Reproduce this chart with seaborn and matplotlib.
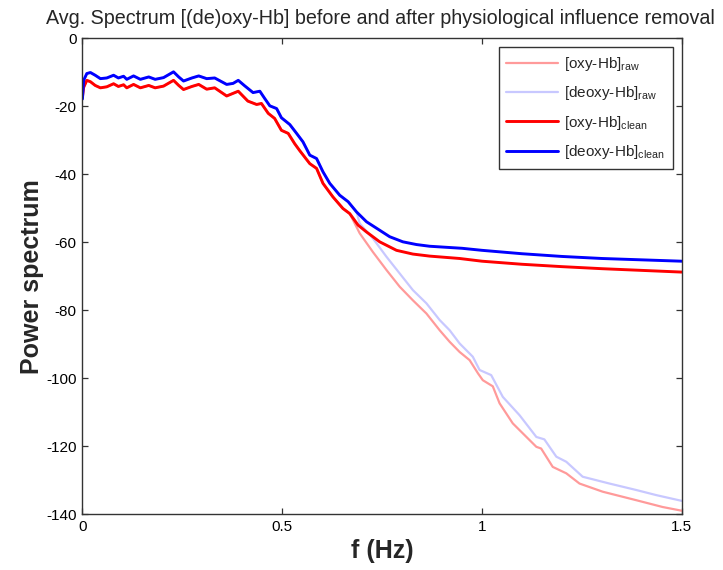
import matplotlib
matplotlib.use("Agg")
import matplotlib.pyplot as plt
import seaborn as sns
import pandas as pd
import numpy as np

# clean spectra
freq_oxy_clean = [0.000, 0.003, 0.011, 0.020, 0.032, 0.045, 0.061, 0.078, 0.090, 0.103,
                  0.111, 0.128, 0.145, 0.166, 0.182, 0.203, 0.228, 0.241, 0.253, 0.274,
                  0.291, 0.311, 0.331, 0.361, 0.390, 0.414, 0.436, 0.448, 0.465, 0.481,
                  0.498, 0.515, 0.531, 0.544, 0.569, 0.586, 0.602, 0.627, 0.652, 0.669,
                  0.690, 0.711, 0.744, 0.786, 0.827, 0.869, 0.944, 1.0, 1.1, 1.2,
                  1.3, 1.4, 1.5]
oxy_clean = [-17.3, -14.5, -12.4, -12.8, -13.9, -14.6, -14.3, -13.4, -14.2, -13.7,
             -14.6, -13.6, -14.6, -13.9, -14.6, -14.1, -12.4, -13.9, -15.1, -14.2,
             -13.6, -15.0, -14.6, -17.0, -15.6, -18.5, -19.5, -19.2, -22.1, -23.6,
             -27.1, -28.0, -31.0, -33.1, -36.9, -38.3, -42.7, -46.7, -50.1, -51.6,
             -55.0, -57.0, -59.9, -62.4, -63.5, -64.1, -64.8, -65.6, -66.5, -67.2,
             -67.8, -68.3, -68.8]

freq_deoxy_clean = [0.000, 0.003, 0.011, 0.020, 0.032, 0.045, 0.061, 0.078, 0.090, 0.103,
                    0.111, 0.128, 0.145, 0.166, 0.182, 0.203, 0.228, 0.241, 0.253, 0.274,
                    0.291, 0.311, 0.331, 0.361, 0.377, 0.390, 0.406, 0.427, 0.444, 0.456,
                    0.469, 0.486, 0.498, 0.519, 0.536, 0.552, 0.569, 0.586, 0.602, 0.619,
                    0.644, 0.665, 0.686, 0.711, 0.744, 0.769, 0.802, 0.836, 0.869, 0.95,
                    1.0, 1.1, 1.2, 1.3, 1.4, 1.5]
deoxy_clean = [-17.9, -12.4, -10.4, -10.1, -10.9, -11.9, -11.7, -10.9, -11.7, -11.2,
               -12.1, -11.1, -12.1, -11.4, -12.1, -11.6, -9.9, -11.4, -12.6, -11.7,
               -11.1, -11.9, -11.7, -13.6, -13.3, -12.4, -14.0, -16.0, -15.6, -17.7,
               -19.9, -20.7, -23.4, -25.4, -28.0, -30.5, -34.4, -35.4, -39.3, -42.7,
               -46.2, -48.1, -51.1, -54.0, -56.5, -58.4, -59.9, -60.7, -61.2, -61.8,
               -62.4, -63.4, -64.2, -64.8, -65.2, -65.6]

# raw spectra follow the clean ones at low f, then drop off
freq_oxy_raw_tail = [0.694, 0.727, 0.761, 0.794, 0.827, 0.861, 0.894, 0.919, 0.944, 0.969,
                     0.990, 1.002, 1.027, 1.044, 1.077, 1.136, 1.148, 1.177, 1.211, 1.244,
                     1.302, 1.386, 1.452, 1.5]
oxy_raw_tail = [-57.4, -62.9, -68.2, -73.1, -77.1, -81.0, -85.9, -89.3, -92.3, -94.7,
                -98.6, -100.6, -102.4, -107.4, -113.3, -120.2, -120.7, -126.1, -128.0, -131.0,
                -133.4, -135.9, -137.9, -139.0]
freq_deoxy_raw_tail = [0.694, 0.727, 0.761, 0.794, 0.827, 0.861, 0.894, 0.919, 0.944, 0.977,
                       0.994, 1.023, 1.052, 1.094, 1.136, 1.156, 1.186, 1.211, 1.252, 1.319,
                       1.386, 1.436, 1.5]
deoxy_raw_tail = [-54.5, -58.9, -64.3, -69.2, -74.1, -78.0, -82.9, -85.9, -89.8, -93.7,
                  -97.6, -99.1, -105.5, -110.9, -117.3, -118.0, -123.1, -124.6, -129.0, -131.0,
                  -132.9, -134.4, -136.1]

labels = [r'[oxy-Hb]$_{\mathrm{raw}}$', r'[deoxy-Hb]$_{\mathrm{raw}}$',
          r'[oxy-Hb]$_{\mathrm{clean}}$', r'[deoxy-Hb]$_{\mathrm{clean}}$']
colors = ['#ff9a9a', '#c8c8ff', '#ff0000', '#0000ff']
widths = [1.6, 1.6, 2.1, 2.1]


def shared_then_tail(f_clean, v_clean, f_tail, v_tail, cut):
    f_clean = np.array(f_clean)
    v_clean = np.array(v_clean)
    keep = f_clean <= cut
    return pd.DataFrame({'f': np.concatenate([f_clean[keep], f_tail]),
                         'P': np.concatenate([v_clean[keep], v_tail])})


df_oxy_raw = shared_then_tail(freq_oxy_clean, oxy_clean, freq_oxy_raw_tail, oxy_raw_tail, 0.67)
df_deoxy_raw = shared_then_tail(freq_deoxy_clean, deoxy_clean, freq_deoxy_raw_tail, deoxy_raw_tail, 0.687)
df_oxy_clean = pd.DataFrame({'f': freq_oxy_clean, 'P': oxy_clean})
df_deoxy_clean = pd.DataFrame({'f': freq_deoxy_clean, 'P': deoxy_clean})

sns.set_style("ticks")
plt.rcParams['font.family'] = ['Liberation Sans', 'DejaVu Sans']
plt.rcParams['mathtext.fontset'] = 'custom'
plt.rcParams['mathtext.rm'] = 'Liberation Sans'
plt.rcParams['mathtext.it'] = 'Liberation Sans:italic'
plt.rcParams['axes.unicode_minus'] = False

fig = plt.figure(figsize=(7.23, 5.70), dpi=100)
ax = fig.add_axes([0.114, 0.098, 0.829, 0.835])

for d, lab, c, w in zip([df_oxy_raw, df_deoxy_raw, df_oxy_clean, df_deoxy_clean], labels, colors, widths):
    sns.lineplot(data=d, x='f', y='P', ax=ax, color=c, linewidth=w, label=lab,
                 estimator=None, sort=False)

ax.set_xlim(0, 1.5)
ax.set_ylim(-140, 0)
ax.set_xticks([0, 0.5, 1, 1.5])
ax.set_xticklabels(['0', '0.5', '1', '1.5'])
ax.set_yticks(np.arange(-140, 1, 20))
ax.tick_params(direction='in', length=4.5, width=0.9, top=True, right=True,
               labelsize=11, colors='#333333', labelcolor='black', pad=4)
for s in ax.spines.values():
    s.set_visible(True)
    s.set_color('#333333')
    s.set_linewidth(1.0)

ax.set_xlabel('f (Hz)', fontsize=18, fontweight='bold', labelpad=4)
ax.set_ylabel('Power spectrum', fontsize=18, fontweight='bold', labelpad=2)
ax.set_title('Avg. Spectrum [(de)oxy-Hb] before and after physiological influence removal',
             fontsize=14.2, pad=10, x=0.497)

leg = ax.legend(loc='upper right', bbox_to_anchor=(0.985, 0.981), borderaxespad=0,
                fontsize=11, frameon=True, fancybox=False, shadow=False, framealpha=1,
                edgecolor='#333333', handlelength=3.4, handletextpad=0.4,
                labelspacing=0.75, borderpad=0.5)
leg.get_frame().set_linewidth(1.0)

fig.savefig('out.png', dpi=100)
